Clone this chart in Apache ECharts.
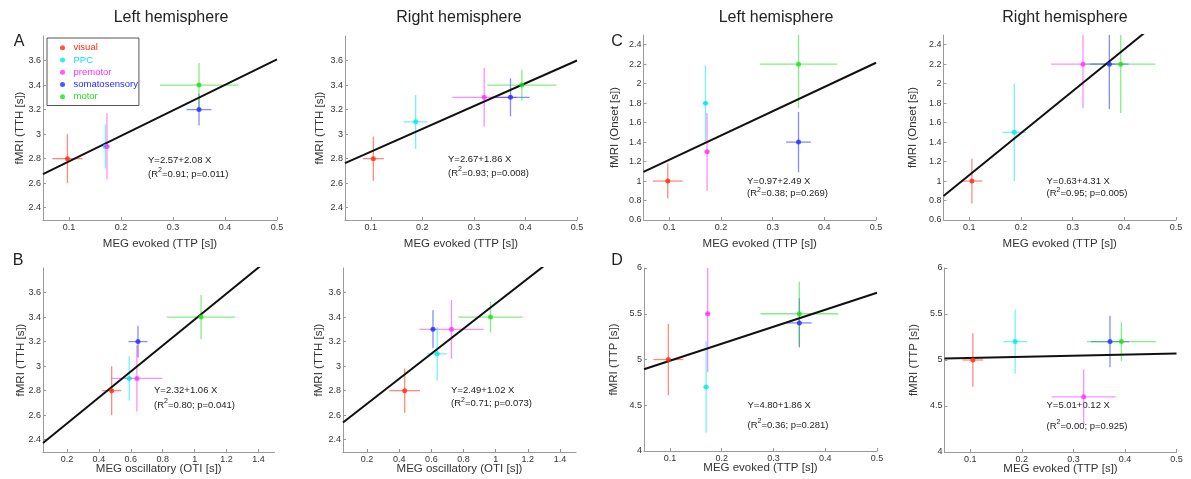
<!DOCTYPE html>
<html>
<head>
<meta charset="utf-8">
<script src="https://cdn.jsdelivr.net/npm/echarts@6/dist/echarts.min.js"></script>
<style>html,body{margin:0;padding:0;background:#fff}#c{width:1191px;height:479px}</style>
</head>
<body>
<div id="c"></div>
<script>
// ---------------- DATA ----------------
const regions = ['visual', 'PPC', 'premotor', 'somatosensory', 'motor'];

// MEG evoked (TTP [s]) per region
const megEvokedL = [0.097, 0.170, 0.173, 0.350, 0.350];
const megEvokedLErr = [0.029, 0.006, 0.005, 0.024, 0.075];
const megEvokedR = [0.105, 0.187, 0.320, 0.371, 0.393];
const megEvokedRErr = [0.020, 0.023, 0.062, 0.037, 0.067];

// MEG oscillatory (OTI [s])
const megOscL = [0.48, 0.59, 0.638, 0.645, 1.04];
const megOscLErr = [0.06, 0.025, 0.16, 0.06, 0.215];
const megOscR = [0.434, 0.636, 0.725, 0.61, 0.968];
const megOscRErr = [0.095, 0.06, 0.20, 0.015, 0.20];

// fMRI (TTH [s])
const fmriTTHL = [2.8, 2.9, 2.9, 3.2, 3.4];
const fmriTTHLErr = [0.20, 0.18, 0.27, 0.13, 0.18];
const fmriTTHR = [2.8, 3.1, 3.3, 3.3, 3.4];
const fmriTTHRErr = [0.18, 0.22, 0.24, 0.155, 0.125];

// fMRI (Onset [s])
const fmriOnsetL = [1.0, 1.8, 1.3, 1.4, 2.2];
const fmriOnsetLErr = [0.18, 0.39, 0.40, 0.31, 0.45];
const fmriOnsetR = [1.0, 1.5, 2.2, 2.2, 2.2];
const fmriOnsetRErr = [0.23, 0.50, 0.45, 0.46, 0.50];

// fMRI (TTP [s])
const fmriTTPL = [5.0, 4.7, 5.5, 5.4, 5.5];
const fmriTTPLErr = [0.39, 0.50, 0.64, 0.27, 0.35];
const fmriTTPR = [5.0, 5.2, 4.6, 5.2, 5.2];
const fmriTTPRErr = [0.29, 0.35, 0.30, 0.28, 0.21];

// regression fits [intercept, slope] and stats [R2, p]
const fitAL = [2.57, 2.08], statAL = ['0.91', '0.011'];
const fitAR = [2.67, 1.86], statAR = ['0.93', '0.008'];
const fitBL = [2.32, 1.06], statBL = ['0.80', '0.041'];
const fitBR = [2.49, 1.02], statBR = ['0.71', '0.073'];
const fitCL = [0.97, 2.49], statCL = ['0.38', '0.269'];
const fitCR = [0.63, 4.31], statCR = ['0.95', '0.005'];
const fitDL = [4.80, 1.86], statDL = ['0.36', '0.281'];
const fitDR = [5.01, 0.12], statDR = ['0.00', '0.925'];

// tick labels
const ticksEvoked = [0.1, 0.2, 0.3, 0.4, 0.5];
const ticksOsc = [0.2, 0.4, 0.6, 0.8, 1, 1.2, 1.4];
const ticksTTH = [2.4, 2.6, 2.8, 3, 3.2, 3.4, 3.6];
const ticksOnset = [0.6, 0.8, 1, 1.2, 1.4, 1.6, 1.8, 2, 2.2, 2.4];
const ticksTTP = [4, 4.5, 5, 5.5, 6];

// ---------------- STYLE / LAYOUT ----------------
const colors = ['#ff2a12', '#00e8f0', '#ff30ff', '#1f2dff', '#1ee01e'];
const FONT = '"Liberation Sans", Arial, Helvetica, sans-serif';

const panels = [
  {x: megEvokedL, xe: megEvokedLErr, y: fmriTTHL, ye: fmriTTHLErr, fit: fitAL, stat: statAL,
   xr: [0.05, 0.5], yr: [2.3, 3.8], xt: ticksEvoked, yt: ticksTTH,
   xn: 'MEG evoked (TTP [s])', yn: 'fMRI (TTH [s])',
   g: {left: 43, top: 36, width: 234, height: 184}, xg: 17.5, yg: 17, ann: [148, 160, 173]},
  {x: megEvokedR, xe: megEvokedRErr, y: fmriTTHR, ye: fmriTTHRErr, fit: fitAR, stat: statAR,
   xr: [0.05, 0.5], yr: [2.3, 3.8], xt: ticksEvoked, yt: ticksTTH,
   xn: 'MEG evoked (TTP [s])', yn: 'fMRI (TTH [s])',
   g: {left: 345, top: 36, width: 232, height: 184}, xg: 17.5, yg: 19, ann: [448, 159, 172]},
  {x: megEvokedL, xe: megEvokedLErr, y: fmriOnsetL, ye: fmriOnsetLErr, fit: fitCL, stat: statCL,
   xr: [0.05, 0.5], yr: [0.6, 2.5], xt: ticksEvoked, yt: ticksOnset,
   xn: 'MEG evoked (TTP [s])', yn: 'fMRI (Onset [s])',
   g: {left: 643.5, top: 35, width: 232.5, height: 185}, xg: 17.5, yg: 23, ann: [747, 181.5, 192.5]},
  {x: megEvokedR, xe: megEvokedRErr, y: fmriOnsetR, ye: fmriOnsetRErr, fit: fitCR, stat: statCR,
   xr: [0.05, 0.5], yr: [0.6, 2.5], xt: ticksEvoked, yt: ticksOnset,
   xn: 'MEG evoked (TTP [s])', yn: 'fMRI (Onset [s])',
   g: {left: 943.5, top: 35, width: 232.5, height: 185}, xg: 17.5, yg: 25, ann: [1046.5, 181.5, 192.5]},
  {x: megOscL, xe: megOscLErr, y: fmriTTHL, ye: fmriTTHLErr, fit: fitBL, stat: statBL,
   xr: [0.05, 1.5], yr: [2.3, 3.8], xt: ticksOsc, yt: ticksTTH,
   xn: 'MEG oscillatory (OTI [s])', yn: 'fMRI (TTH [s])',
   g: {left: 43, top: 268, width: 231.5, height: 184}, xg: 11, yg: 16, ann: [154, 390.5, 404]},
  {x: megOscR, xe: megOscRErr, y: fmriTTHR, ye: fmriTTHRErr, fit: fitBR, stat: statBR,
   xr: [0.05, 1.5], yr: [2.3, 3.8], xt: ticksOsc, yt: ticksTTH,
   xn: 'MEG oscillatory (OTI [s])', yn: 'fMRI (TTH [s])',
   g: {left: 343, top: 268, width: 233, height: 184}, xg: 11, yg: 18, ann: [451, 390, 402.5]},
  {x: megEvokedL, xe: megEvokedLErr, y: fmriTTPL, ye: fmriTTPLErr, fit: fitDL, stat: statDL,
   xr: [0.05, 0.5], yr: [4, 6], xt: ticksEvoked, yt: ticksTTP,
   xn: 'MEG evoked (TTP [s])', yn: 'fMRI (TTP [s])',
   g: {left: 644, top: 268, width: 233, height: 183}, xg: 11, yg: 24, ann: [747.5, 405, 424]},
  {x: megEvokedR, xe: megEvokedRErr, y: fmriTTPR, ye: fmriTTPRErr, fit: fitDR, stat: statDR,
   xr: [0.05, 0.5], yr: [4, 6], xt: ticksEvoked, yt: ticksTTP,
   xn: 'MEG evoked (TTP [s])', yn: 'fMRI (TTP [s])',
   g: {left: 944.5, top: 268, width: 232, height: 184}, xg: 11, yg: 25, ann: [1046.5, 405, 425]}
];

const titles = [
  {t: 'Left hemisphere', x: 171, y: 18}, {t: 'Right hemisphere', x: 459, y: 18},
  {t: 'Left hemisphere', x: 776, y: 18}, {t: 'Right hemisphere', x: 1065, y: 18}
];
const letters = [
  {t: 'A', x: 19, y: 42}, {t: 'B', x: 18, y: 261}, {t: 'C', x: 617, y: 42}, {t: 'D', x: 617, y: 261}
];

// ---------------- BUILD ----------------
const AXC = '#9a9a9a';
const LBC = '#333';
function axisCommon(min, max, ticks, name, gap, isY) {
  return {
    type: 'value', min: min, max: max, name: name, nameLocation: 'middle', nameGap: gap,
    nameRotate: isY ? 90 : 0, nameMoveOverlap: false,
    nameTextStyle: {fontSize: 11.5, color: '#333', fontFamily: FONT},
    axisLine: {show: true, onZero: false, lineStyle: {color: AXC, width: 1}},
    axisTick: {show: true, inside: true, length: 3, customValues: ticks, lineStyle: {color: AXC}},
    axisLabel: {customValues: ticks, fontSize: 9, color: LBC, fontFamily: FONT, margin: isY ? 2 : 3,
      formatter: v => String(v)},
    splitLine: {show: false}
  };
}

function errRender(params, api) {
  const x = api.value(0), y = api.value(1), xe = api.value(2), ye = api.value(3), ci = api.value(4);
  const cs = params.coordSys;
  const c = api.coord([x, y]);
  const l = api.coord([x - xe, y]), r = api.coord([x + xe, y]);
  const t = api.coord([x, y + ye]), b = api.coord([x, y - ye]);
  const top = Math.max(t[1], cs.y), bot = Math.min(b[1], cs.y + cs.height);
  const st = {stroke: colors[ci], lineWidth: 1.3, opacity: 0.55};
  return {type: 'group', children: [
    {type: 'line', shape: {x1: l[0], y1: c[1], x2: r[0], y2: c[1]}, style: st},
    {type: 'line', shape: {x1: c[0], y1: top, x2: c[0], y2: bot}, style: st}
  ]};
}

const grid = [], xAxis = [], yAxis = [], series = [], graphic = [];
panels.forEach((p, i) => {
  grid.push(Object.assign({containLabel: false}, p.g));
  xAxis.push(Object.assign({gridIndex: i}, axisCommon(p.xr[0], p.xr[1], p.xt, p.xn, p.xg, false)));
  yAxis.push(Object.assign({gridIndex: i}, axisCommon(p.yr[0], p.yr[1], p.yt, p.yn, p.yg, true)));
  const rows = regions.map((_, k) => [p.x[k], p.y[k], p.xe[k], p.ye[k], k]);
  series.push({type: 'custom', xAxisIndex: i, yAxisIndex: i, renderItem: errRender, data: rows, z: 2, silent: true});
  series.push({type: 'line', xAxisIndex: i, yAxisIndex: i, symbol: 'none', clip: true, silent: true, z: 3,
    lineStyle: {color: '#111', width: 2},
    data: [[p.xr[0], p.fit[0] + p.fit[1] * p.xr[0]], [p.xr[1], p.fit[0] + p.fit[1] * p.xr[1]]]});
  regions.forEach((name, k) => {
    series.push({type: 'scatter', name: name, xAxisIndex: i, yAxisIndex: i, symbolSize: 5, z: 4, silent: true,
      itemStyle: {color: colors[k]}, data: [[p.x[k], p.y[k]]]});
  });
  graphic.push({type: 'text', x: p.ann[0], y: p.ann[1], silent: true,
    style: {text: 'Y=' + p.fit[0].toFixed(2) + '+' + p.fit[1].toFixed(2) + ' X', fill: '#222',
      font: '9.5px ' + FONT, textAlign: 'left', align: 'left', textVerticalAlign: 'middle', verticalAlign: 'middle'}});
  graphic.push({type: 'text', x: p.ann[0], y: p.ann[2], silent: true,
    style: {text: '{n|(R}{s|2}{n|=' + p.stat[0] + '; p=' + p.stat[1] + ')}',
      textAlign: 'left', align: 'left', textVerticalAlign: 'middle', verticalAlign: 'middle',
      rich: {n: {fontSize: 9.5, fontFamily: FONT, fill: '#222', color: '#222', lineHeight: 12, verticalAlign: 'bottom'},
             s: {fontSize: 7, fontFamily: FONT, fill: '#222', color: '#222', lineHeight: 12, verticalAlign: 'top'}}}});
});
titles.forEach(o => graphic.push({type: 'text', x: o.x, y: o.y, silent: true,
  style: {text: o.t, fill: '#222', font: '16px ' + FONT, textAlign: 'center', align: 'center',
    textVerticalAlign: 'middle', verticalAlign: 'middle'}}));
letters.forEach(o => graphic.push({type: 'text', x: o.x, y: o.y, silent: true,
  style: {text: o.t, fill: '#222', font: '16px ' + FONT, textAlign: 'center', align: 'center',
    textVerticalAlign: 'middle', verticalAlign: 'middle'}}));

const chart = echarts.init(document.getElementById('c'));
chart.setOption({
  animation: false,
  backgroundColor: '#fff',
  grid: grid, xAxis: xAxis, yAxis: yAxis, series: series, graphic: graphic,
  legend: {
    data: regions.map((r, k) => ({name: r, textStyle: {color: colors[k]}})),
    orient: 'vertical', left: 47, top: 38, icon: 'circle', itemWidth: 12, itemHeight: 5, itemGap: 1,
    selectedMode: false, borderColor: '#555', borderWidth: 1, padding: [4, 1, 3, 13],
    textStyle: {fontSize: 9.5, fontFamily: FONT, lineHeight: 11.3}
  }
});
</script>
</body>
</html>
